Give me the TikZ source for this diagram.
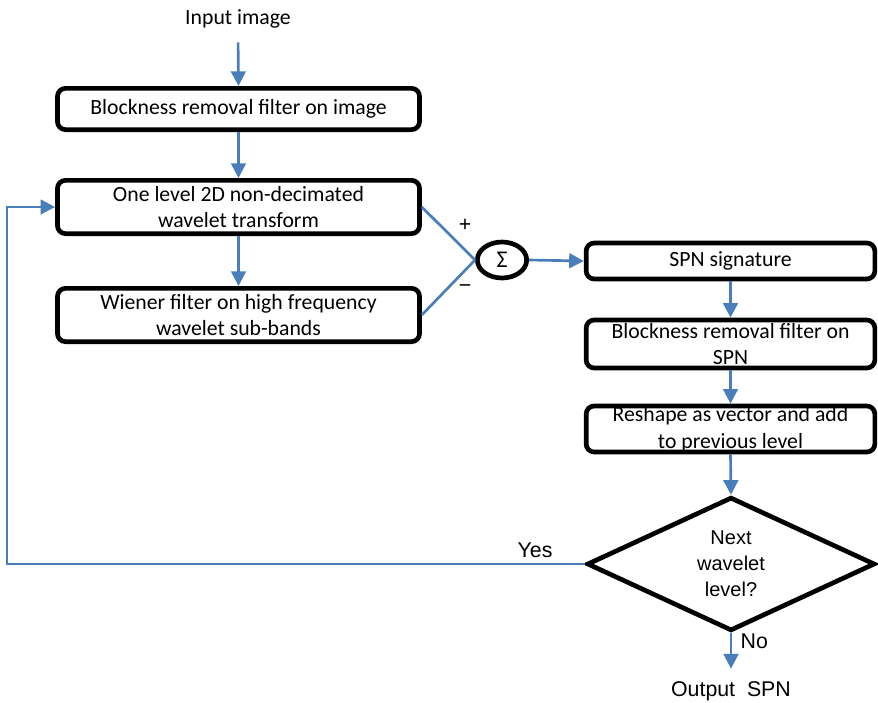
\documentclass[tikz,border=0pt]{standalone}
\usepackage{fontspec}
\setmainfont{Carlito}
\newfontfamily\arialfont{Liberation Sans}
\usetikzlibrary{shapes.geometric,arrows.meta}
\definecolor{flowblue}{HTML}{4A7EBB}
\begin{document}
\begin{tikzpicture}[x=0.75pt,y=-0.75pt,
  boxfont/.style={font=\fontsize{16.3}{20}\selectfont},
  procbox/.style={draw=black,line width=3.5pt,rounded corners=6pt,align=center,
    boxfont,inner sep=0pt},
  leftbox/.style={procbox,minimum width=271.5pt},
  rightbox/.style={procbox,minimum width=216.5pt},
  flow/.style={draw=flowblue,line width=2pt,-{Triangle[length=11pt,width=11pt]}},
  link/.style={draw=flowblue,line width=2pt},
  lbl/.style={font=\arialfont\fontsize{16}{19.5}\selectfont,align=center},
  qtext/.style={font=\arialfont\fontsize{15}{19.5}\selectfont,align=center}]
\useasboundingbox (0,0) rectangle (878,703);

% left column
\node[boxfont] (input) at (238,19) {Input image};
\node[leftbox,minimum height=31pt] (deblock) at (238.5,109) {Blockness removal filter on image};
\node[leftbox,minimum height=40pt] (dwt) at (238.5,207) {One level 2D non-decimated\\wavelet transform};
\node[leftbox,minimum height=40pt] (wiener) at (238.5,315) {Wiener filter on high frequency\\wavelet sub-bands};

% summing junction
\node[draw=black,line width=3.5pt,ellipse,minimum width=37pt,minimum height=27pt,
  inner sep=0pt,font=\fontsize{18}{20}\selectfont] (sum) at (502,260) {\char"03A3};
\node[lbl] (plus) at (465,225) {+};
\node[lbl] (minus) at (465,289) {−};

% right column
\node[rightbox,minimum height=27pt] (spn) at (730.5,261) {SPN signature};
\node[rightbox,minimum height=36pt] (spnblock) at (730.5,344) {Blockness removal filter on\\SPN};
\node[rightbox,minimum height=34.5pt] (reshape) at (730.5,429) {Reshape as vector and add\\to previous level};
\node[draw=black,line width=3.5pt,diamond,minimum width=216pt,minimum height=89pt,
  inner sep=0pt,qtext] (next) at (731,564) {Next\\wavelet\\level?};
\node[lbl] (output) at (731,691) {Output\ \ SPN};
\node[lbl,anchor=west] (no) at (736,641) {No};
\node[lbl] (yes) at (535,550) {Yes};
\coordinate (loopx) at (7,0);

% connectors
\draw[flow,shorten <=7pt] (input.south) -- (deblock.north);
\draw[flow] (deblock.south) -- (dwt.north);
\draw[flow] (dwt.south) -- (wiener.north);
\draw[link] (dwt.east) -- (sum.west);
\draw[link] (wiener.east) -- (sum.west);
\draw[flow] (sum.east) -- (spn.west);
\draw[flow] (spn.south) -- (spnblock.north);
\draw[flow] (spnblock.south) -- (reshape.north);
\draw[flow] (reshape.south) -- (next.north);
\draw[flow,shorten >=6pt] (next.south) -- (output.north);
\draw[flow] (next.west) -- (next.west -| loopx) |- (dwt.west);
\end{tikzpicture}
\end{document}
